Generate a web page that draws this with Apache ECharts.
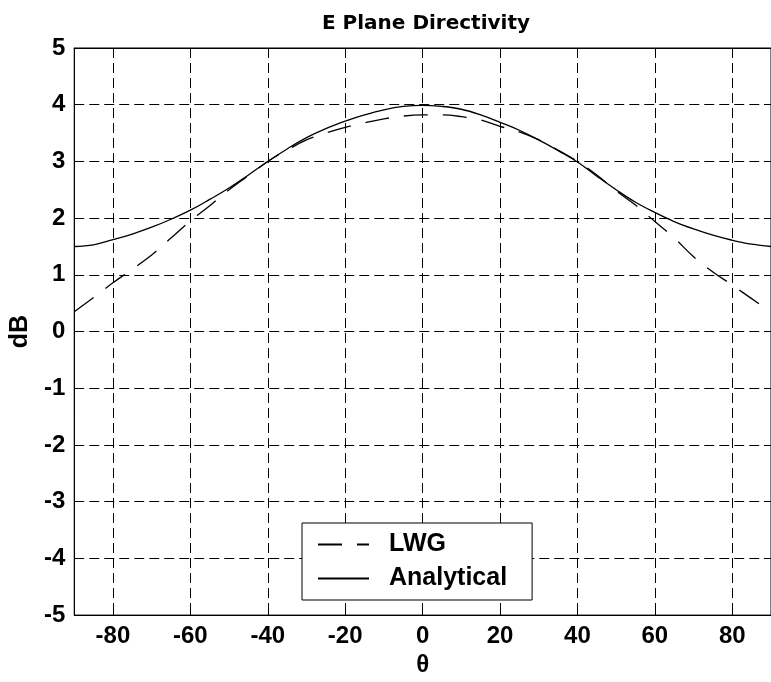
<!DOCTYPE html>
<html>
<head>
<meta charset="utf-8">
<script src="https://cdn.jsdelivr.net/npm/echarts@6/dist/echarts.min.js"></script>
<style>
html,body{margin:0;padding:0;background:#fff;}
#chart{width:771px;height:682px;}
</style>
</head>
<body>
<div id="chart"></div>
<script>
var theta = [-90,-85,-80,-75,-70,-65,-60,-55,-50,-45,-40,-35,-30,-25,-20,-15,-10,-5,0,5,10,15,20,25,30,35,40,45,50,55,60,65,70,75,80,85,90];
var lwg = [0.35,0.60,0.86,1.10,1.35,1.65,1.95,2.22,2.50,2.75,3.00,3.20,3.38,3.50,3.60,3.68,3.75,3.80,3.82,3.82,3.79,3.73,3.62,3.52,3.38,3.20,3.00,2.76,2.48,2.23,1.94,1.65,1.32,1.05,0.82,0.58,0.35];
var analytical = [1.50,1.53,1.62,1.72,1.84,1.98,2.14,2.33,2.53,2.76,3.00,3.22,3.42,3.58,3.71,3.82,3.91,3.97,3.99,3.97,3.92,3.82,3.69,3.55,3.38,3.19,2.99,2.74,2.50,2.28,2.10,1.94,1.81,1.70,1.61,1.54,1.50];
var xTicks = [-80,-60,-40,-20,0,20,40,60,80];
var yTicks = [-5,-4,-3,-2,-1,0,1,2,3,4,5];

function pairs(xs, ys){ return xs.map(function(x,i){ return [x, ys[i]]; }); }

var FONT = '"Liberation Sans", Arial, sans-serif';
var chart = echarts.init(document.getElementById('chart'), null, {renderer:'canvas'});
var gridLine = {show:true, lineStyle:{color:'#000', width:1, type:[10,5]}};
chart.setOption({
  animation:false,
  backgroundColor:'#fff',
  title:{
    text:'E Plane Directivity',
    left:421, textAlign:'center', top:9,
    textStyle:{fontFamily:'"DejaVu Sans", sans-serif', fontSize:20, fontWeight:'bold', color:'#000'}
  },
  legend:{
    orient:'vertical',
    left:302, top:523,
    backgroundColor:'#fff',
    borderColor:'#000', borderWidth:1, borderRadius:0,
    padding:[9,25,9,15],
    itemWidth:51, itemHeight:25, itemGap:9,
    itemStyle:{opacity:0},
    textStyle:{fontFamily:FONT, fontSize:25, fontWeight:'bold', color:'#000', padding:[0,0,0,15]},
    data:[{name:'LWG'},{name:'Analytical'}]
  },
  grid:{left:71, top:48, right:-5, bottom:61, show:true, borderColor:'#000', borderWidth:1, containLabel:false},
  xAxis:[{
    type:'value', min:-90, max:90,
    name:'θ', nameLocation:'middle', nameGap:35,
    nameTextStyle:{fontFamily:FONT, fontSize:24, fontWeight:'bold', color:'#000'},
    axisLine:{show:true, onZero:false, lineStyle:{color:'#000', width:1}},
    axisTick:{show:true, inside:true, length:7, lineStyle:{color:'#000'}, customValues:xTicks},
    axisLabel:{customValues:xTicks, margin:9, fontFamily:FONT, fontSize:24, fontWeight:'bold', color:'#000'},
    splitLine:gridLine
  },{
    type:'value', min:-90, max:90, position:'top',
    axisLine:{show:true, onZero:false, lineStyle:{color:'#000', width:1}},
    axisTick:{show:true, inside:true, length:7, lineStyle:{color:'#000'}, customValues:xTicks},
    axisLabel:{show:false},
    splitLine:{show:false}
  }],
  yAxis:[{
    type:'value', min:-5, max:5, interval:1,
    name:'dB', nameLocation:'middle', nameGap:40,
    nameTextStyle:{fontFamily:FONT, fontSize:25, fontWeight:'bold', color:'#000'},
    axisLine:{show:true, onZero:false, lineStyle:{color:'#000', width:1}},
    axisTick:{show:true, inside:true, length:7, lineStyle:{color:'#000'}},
    axisLabel:{margin:9, fontFamily:FONT, fontSize:24, fontWeight:'bold', color:'#000'},
    splitLine:gridLine
  },{
    type:'value', min:-5, max:5, interval:1, position:'right',
    axisLine:{show:true, onZero:false, lineStyle:{color:'#000', width:1}},
    axisTick:{show:true, inside:true, length:7, lineStyle:{color:'#000'}},
    axisLabel:{show:false},
    splitLine:{show:false}
  }],
  series:[{
    name:'LWG', type:'line', smooth:0.4, symbol:'none',
    data:pairs(theta, lwg),
    lineStyle:{color:'#000', width:1.3, type:[24,15]},
    itemStyle:{color:'#000'}
  },{
    name:'Analytical', type:'line', smooth:0.4, symbol:'none',
    data:pairs(theta, analytical),
    lineStyle:{color:'#000', width:1.3, type:'solid'},
    itemStyle:{color:'#000'}
  }]
});
</script>
</body>
</html>
